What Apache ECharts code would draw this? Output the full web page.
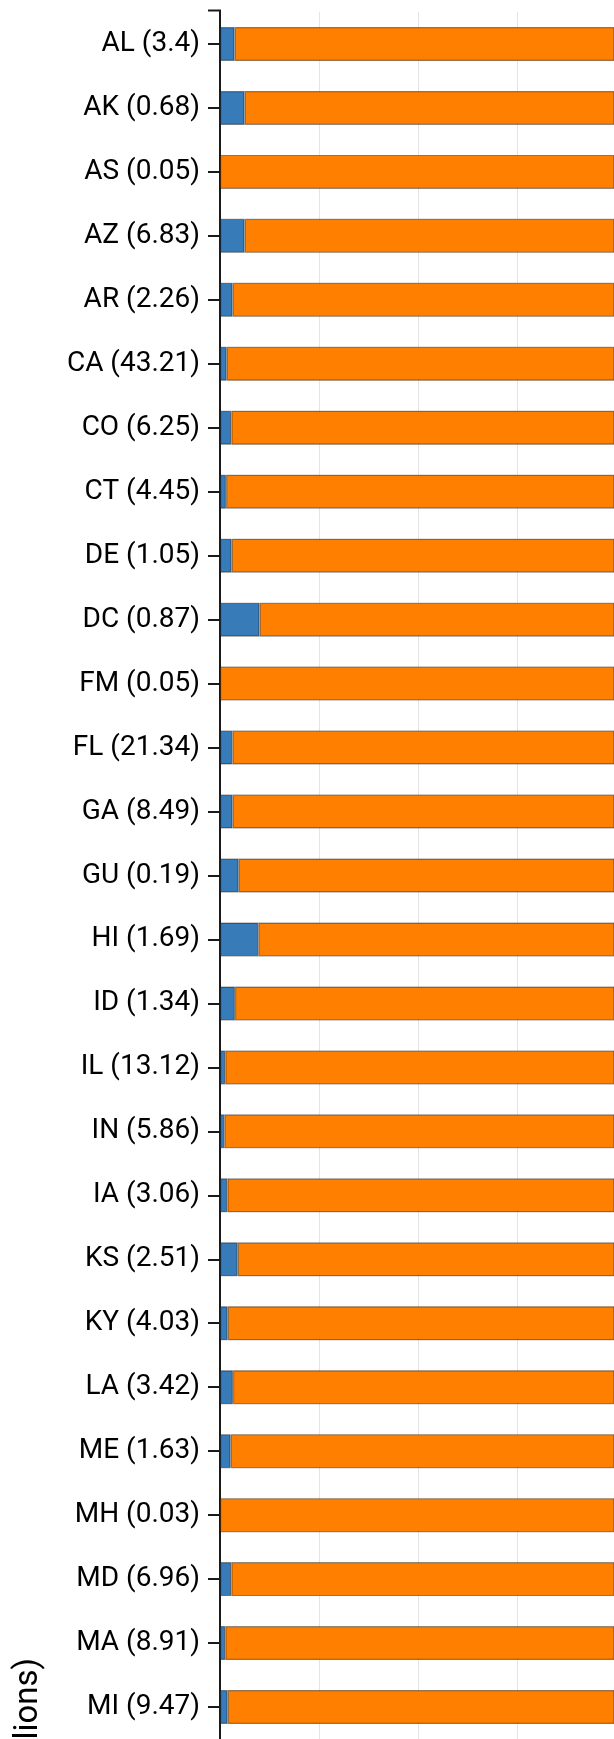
<!DOCTYPE html>
<html>
<head>
<meta charset="utf-8">
<script src="https://cdn.jsdelivr.net/npm/echarts@6/dist/echarts.min.js"></script>
<style>
  html, body { margin: 0; padding: 0; background: #fff; }
  #chart { width: 614px; height: 1739px; }
</style>
</head>
<body>
<div id="chart"></div>
<script>
// states shown (the rest of the list runs off the bottom)
var states = ["AL", "AK", "AS", "AZ", "AR", "CA", "CO", "CT", "DE", "DC", "FM", "FL", "GA", "GU",
  "HI", "ID", "IL", "IN", "IA", "KS", "KY", "LA", "ME", "MH", "MD", "MA", "MI"];
// totals in millions, printed in the labels
var totals = [3.4, 0.68, 0.05, 6.83, 2.26, 43.21, 6.25, 4.45, 1.05, 0.87, 0.05, 21.34, 8.49, 0.19,
  1.69, 1.34, 13.12, 5.86, 3.06, 2.51, 4.03, 3.42, 1.63, 0.03, 6.96, 8.91, 9.47];
// blue share (%)
var shareBlue = [1.48, 2.49, 0, 2.49, 1.28, 0.68, 1.14, 0.61, 1.18, 4.0, 0, 1.24, 1.28, 1.89,
  3.86, 1.51, 0.53, 0.43, 0.74, 1.79, 0.78, 1.31, 1.08, 0, 1.14, 0.53, 0.78];
// orange share (%)
var shareOrange = [98.52, 97.51, 100, 97.51, 98.72, 99.32, 98.86, 99.39, 98.82, 96.0, 100, 98.76, 98.72, 98.11,
  96.14, 98.49, 99.47, 99.57, 99.26, 98.21, 99.22, 98.69, 98.92, 100, 98.86, 99.47, 99.22];

var labels = states.map(function (s, i) { return s + " (" + totals[i] + ")"; });

var chart = echarts.init(document.getElementById("chart"), null, { renderer: "canvas" });
var barBorder = { borderColor: "rgba(0,0,0,0.4)", borderWidth: 1.2 };

// only the first ~40% of the 0-100% axis fits in the window
chart.setOption({
  animation: false,
  textStyle: { fontFamily: "Roboto" },
  grid: { left: 220, right: 0, top: 12, bottom: -15, containLabel: false },
  xAxis: {
    type: "value",
    min: 0,
    max: 39.76,
    interval: 10,
    axisLine: { show: false },
    axisTick: { show: false },
    axisLabel: { show: false },
    splitLine: { show: true, lineStyle: { color: "#e4e4e4", width: 1 } }
  },
  yAxis: {
    type: "category",
    inverse: true,
    data: labels,
    axisLine: { show: true, lineStyle: { color: "#1a1a1a", width: 2 } },
    axisTick: { show: true, alignWithLabel: true, length: 12, lineStyle: { color: "#1a1a1a", width: 2 } },
    axisLabel: { color: "#000", fontSize: 28, margin: 20, fontFamily: "Roboto" },
    splitLine: { show: false }
  },
  graphic: [
    {
      type: "polyline",
      shape: { points: [[208, 10.5], [220, 10.5], [220, 13]] },
      style: { stroke: "#1a1a1a", lineWidth: 2, fill: null },
      silent: true
    },
    {
      type: "text",
      x: 29,
      y: 1658,
      rotation: Math.PI / 2,
      style: {
        text: "Population (millions)",
        fontSize: 33,
        fontFamily: "Roboto",
        fill: "#000",
        align: "right",
        verticalAlign: "middle"
      },
      silent: true
    }
  ],
  series: [
    {
      name: "blue",
      type: "bar",
      stack: "s",
      barWidth: 34,
      clip: true,
      data: shareBlue,
      itemStyle: Object.assign({ color: "#377bb8" }, barBorder)
    },
    {
      name: "orange",
      type: "bar",
      stack: "s",
      barWidth: 34,
      clip: true,
      data: shareOrange,
      itemStyle: Object.assign({ color: "#ff8000" }, barBorder)
    }
  ]
});
</script>
</body>
</html>
